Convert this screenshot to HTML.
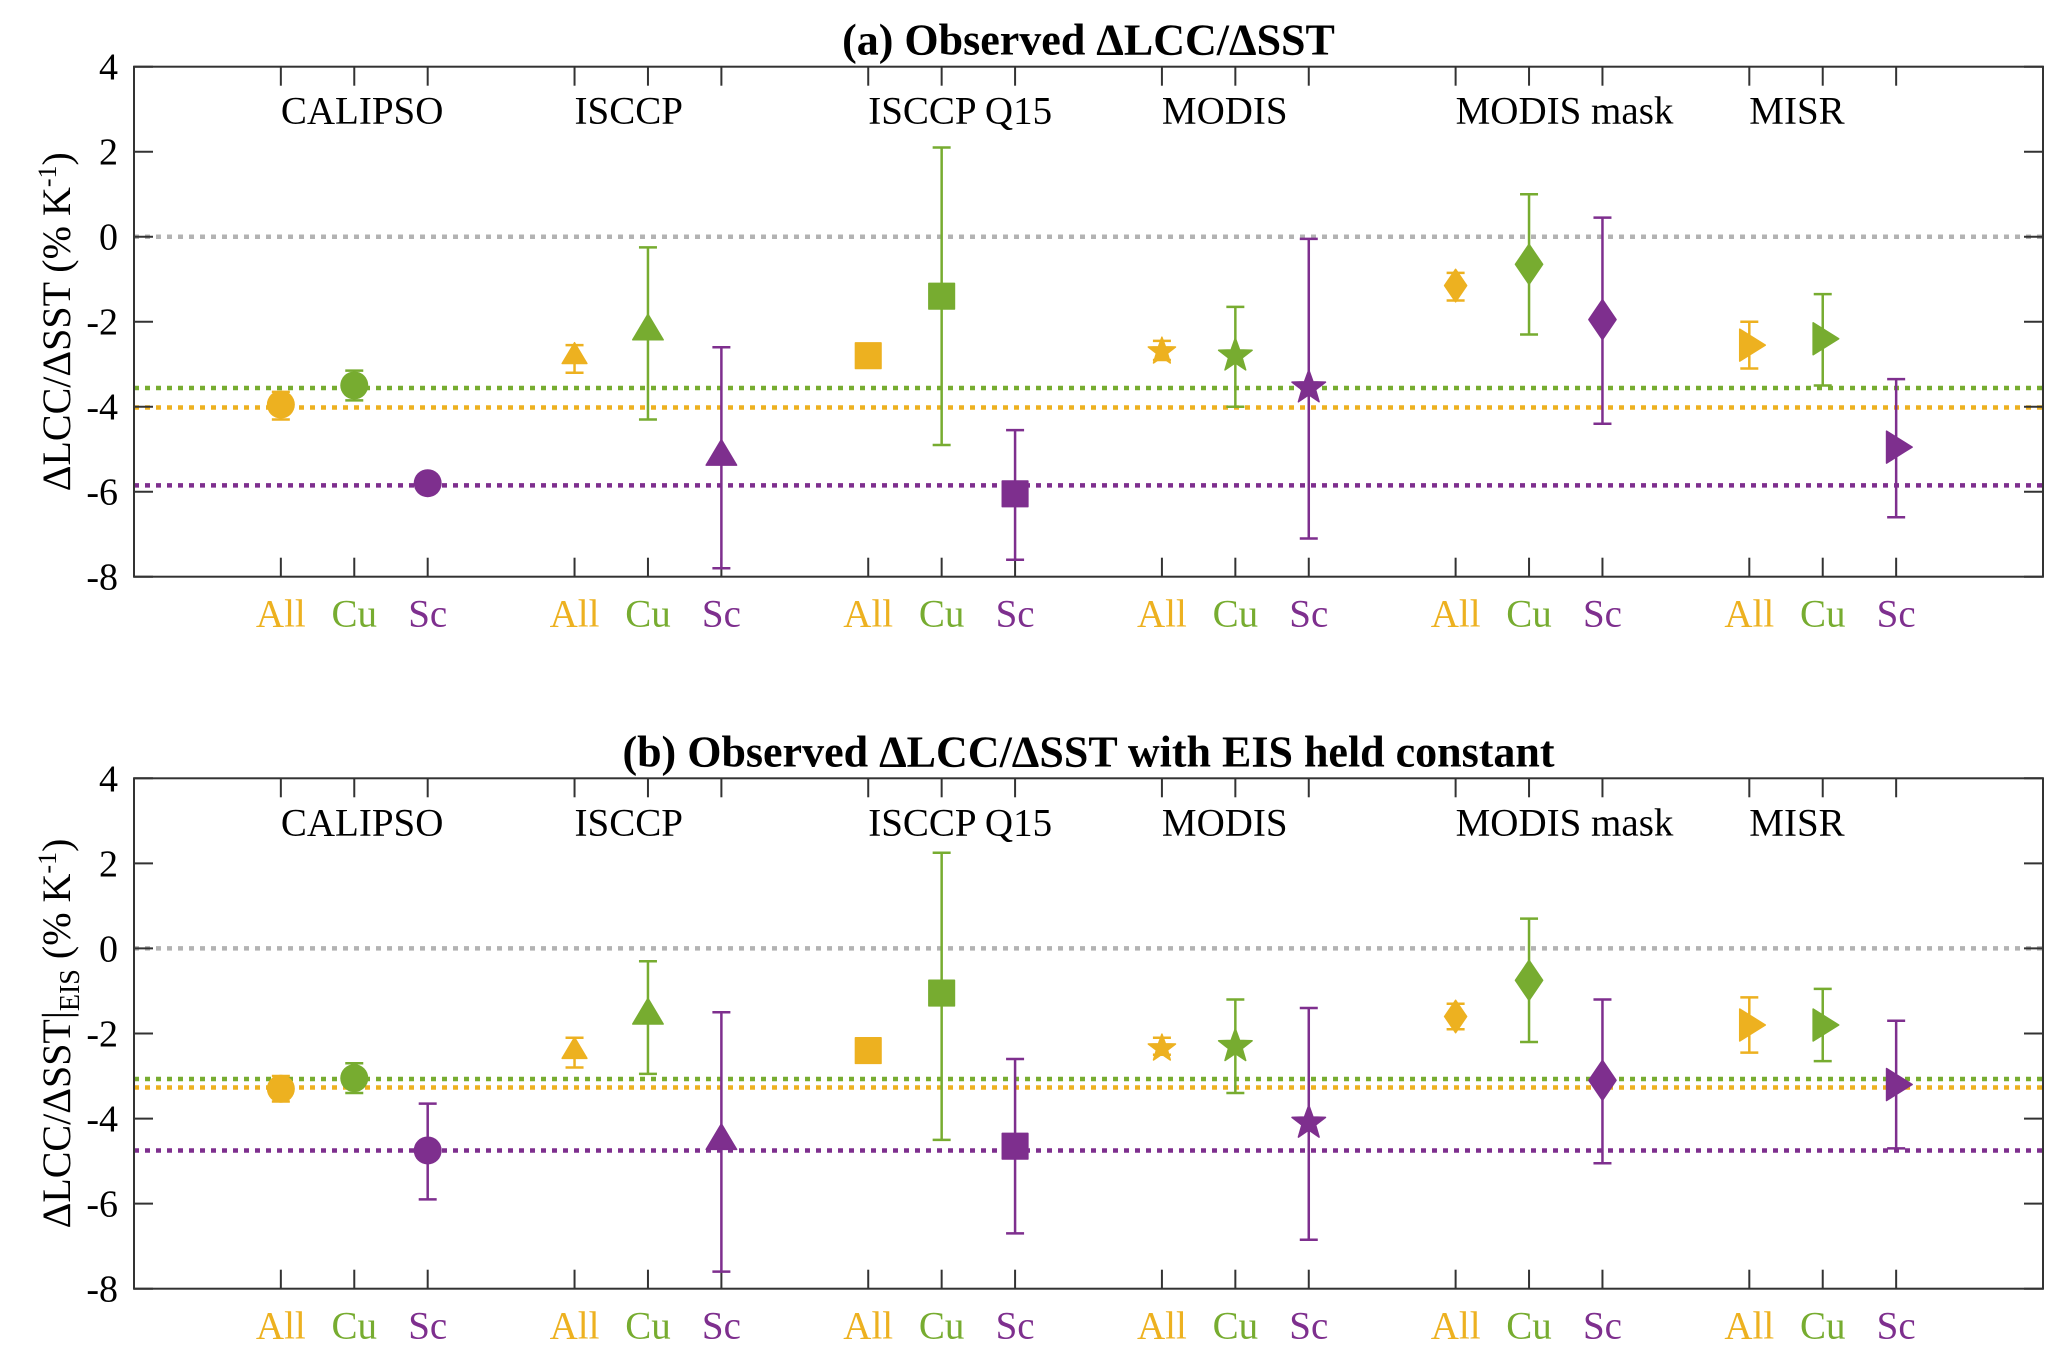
<!DOCTYPE html>
<html><head><meta charset="utf-8"><style>
html,body{margin:0;padding:0;background:#fff;}
svg{display:block;font-family:"Liberation Serif",serif;}
</style></head><body>
<svg id="chart" width="2067" height="1362" viewBox="0 0 2067 1362" xmlns="http://www.w3.org/2000/svg"></svg>
<script>
const groups = ["CALIPSO","ISCCP","ISCCP Q15","MODIS","MODIS mask","MISR"];
const markers = ["circle","triangle","square","star","diamond","tright"];
const cats = ["All","Cu","Sc"];
const yTicks = [4,2,0,-2,-4,-6,-8];
// panel a: values [All,Cu,Sc] per group, error low/high
const valsA = [[-3.95,-3.5,-5.8],[-2.8,-2.2,-5.15],[-2.8,-1.4,-6.05],[-2.7,-2.8,-3.55],[-1.15,-0.65,-1.95],[-2.55,-2.4,-4.95]];
const loA = [[-4.3,-3.85,-5.8],[-3.2,-4.3,-7.8],[-2.8,-4.9,-7.6],[-2.9,-4.0,-7.1],[-1.5,-2.3,-4.4],[-3.1,-3.5,-6.6]];
const hiA = [[-3.65,-3.15,-5.8],[-2.55,-0.25,-2.6],[-2.8,2.1,-4.55],[-2.45,-1.65,-0.05],[-0.85,1.0,0.45],[-2.0,-1.35,-3.35]];
const refA = [-4.02,-3.56,-5.85];
// panel b
const valsB = [[-3.3,-3.05,-4.75],[-2.4,-1.55,-4.5],[-2.4,-1.05,-4.65],[-2.35,-2.3,-4.1],[-1.6,-0.75,-3.1],[-1.8,-1.8,-3.2]];
const loB = [[-3.6,-3.4,-5.9],[-2.8,-2.95,-7.6],[-2.4,-4.5,-6.7],[-2.5,-3.4,-6.85],[-1.9,-2.2,-5.05],[-2.45,-2.65,-4.7]];
const hiB = [[-3.0,-2.7,-3.65],[-2.1,-0.3,-1.5],[-2.4,2.25,-2.6],[-2.1,-1.2,-1.4],[-1.3,0.7,-1.2],[-1.15,-0.95,-1.7]];
const refB = [-3.27,-3.07,-4.75];

const colors = ["#EDB120","#77AC30","#7E2F8E"];
const NS = "http://www.w3.org/2000/svg";
const svg = document.getElementById("chart");
const L = 134, R = 2043;
function xs(i){ return L + (i-1)*(R-L)/26; }
function mk(tag, attrs, parent){ const e=document.createElementNS(NS,tag); for(const k in attrs) e.setAttribute(k,attrs[k]); (parent||svg).appendChild(e); return e; }

function markerPath(type, cx, cy, s){
  if(type==="circle") return null;
  if(type==="triangle") return `M${cx},${cy-s} L${cx+s*0.95},${cy+s*0.6} L${cx-s*0.95},${cy+s*0.6}Z`;
  if(type==="square"){ const h=s*0.8; return `M${cx-h},${cy-h}H${cx+h}V${cy+h}H${cx-h}Z`; }
  if(type==="diamond") return `M${cx},${cy-s*1.25} L${cx+s*0.85},${cy} L${cx},${cy+s*1.25} L${cx-s*0.85},${cy}Z`;
  if(type==="tright") return `M${cx-s*0.6},${cy-s} L${cx+s},${cy} L${cx-s*0.6},${cy+s}Z`;
  if(type==="star"){ let d=""; for(let k=0;k<10;k++){ const r=k%2?s*0.45:s*1.1; const a=-Math.PI/2+k*Math.PI/5; d+=(k?"L":"M")+(cx+r*Math.cos(a)).toFixed(1)+","+(cy+r*Math.sin(a)).toFixed(1);} return d+"Z"; }
}

function panel(top, bot, title, vals, lo, hi, refs, pid, ylab){
  const ys = v => top + (4-v)*(bot-top)/12;
  const g = mk("g",{});
  
  
  const t = mk("text",{x:(L+R)/2,y:top-12,"text-anchor":"middle","font-size":44,"font-weight":"bold"},g);
  t.textContent = title;
  
  
  const zl = mk("line",{x1:L,x2:R,y1:ys(0),y2:ys(0),stroke:"#b3b3b3","stroke-width":4.5,"stroke-dasharray":"5 6"},g);
  
  
  const refOrder=[1,0,2];
  refOrder.forEach(c=>{
    const rl = mk("line",{x1:L,x2:R,y1:ys(refs[c]),y2:ys(refs[c]),stroke:colors[c],"stroke-width":4.5,"stroke-dasharray":"5 6"},g);
    
    
  });
  const box = mk("rect",{x:L,y:top,width:R-L,height:bot-top,fill:"none",stroke:"#333","stroke-width":2},g);
  
  
  yTicks.forEach(v=>{
    const y=ys(v);
    mk("line",{x1:L,x2:L+19,y1:y,y2:y,stroke:"#333","stroke-width":2},g);
    mk("line",{x1:R-19,x2:R,y1:y,y2:y,stroke:"#333","stroke-width":2},g);
    const tl = mk("text",{x:L-16,y:y+13,"text-anchor":"end","font-size":38},g);
    tl.textContent = v;
    
    
  });
  const yl = mk("text",{transform:`translate(70,${(top+bot)/2}) rotate(-90)`,"text-anchor":"middle","font-size":40},g);
  yl.innerHTML = ylab;
  
  
  groups.forEach((gn,gi)=>{
    const gl = mk("text",{x:xs(3+4*gi),y:top+57,"font-size":39},g);
    gl.textContent = gn;
    
    
    cats.forEach((cn,ci)=>{
      const x = xs(3+4*gi+ci);
      mk("line",{x1:x,x2:x,y1:top,y2:top+19,stroke:"#333","stroke-width":2},g);
      mk("line",{x1:x,x2:x,y1:bot-19,y2:bot,stroke:"#333","stroke-width":2},g);
      const cl = mk("text",{x:x,y:bot+50,"text-anchor":"middle","font-size":39,fill:colors[ci]},g);
      cl.textContent = cn;
      
      
      const col = colors[ci];
      const y1=ys(hi[gi][ci]), y2=ys(lo[gi][ci]);
      if(Math.abs(y2-y1)>2){
        const eb = mk("path",{d:`M${x-9},${y1}H${x+9}M${x},${y1}V${y2}M${x-9},${y2}H${x+9}`,stroke:col,"stroke-width":2.5,fill:"none"},g);
        
        
      }
      const cy = ys(vals[gi][ci]);
      const small = (ci===0 && (gi===1||gi===3||gi===4));
      const s = small?13:16;
      let m;
      if(markers[gi]==="circle") m = mk("circle",{cx:x,cy:cy,r:14,fill:col},g);
      else m = mk("path",{d:markerPath(markers[gi],x,cy,s),fill:col,stroke:col,"stroke-width":1.5,"stroke-linejoin":"round"},g);
      
      
    });
  });
}
panel(66.7, 576.7, "(a) Observed \u0394LCC/\u0394SST", valsA, loA, hiA, refA, "a",
  '\u0394LCC/\u0394SST (% K<tspan dy="-14" font-size="26">-1</tspan><tspan dy="14">)</tspan>');
panel(778.3, 1288.7, "(b) Observed \u0394LCC/\u0394SST with EIS held constant", valsB, loB, hiB, refB, "b",
  '\u0394LCC/\u0394SST|<tspan dy="9" font-size="28">EIS</tspan><tspan dy="-9"> (% K</tspan><tspan dy="-14" font-size="26">-1</tspan><tspan dy="14">)</tspan>');
</script>
</body></html>
